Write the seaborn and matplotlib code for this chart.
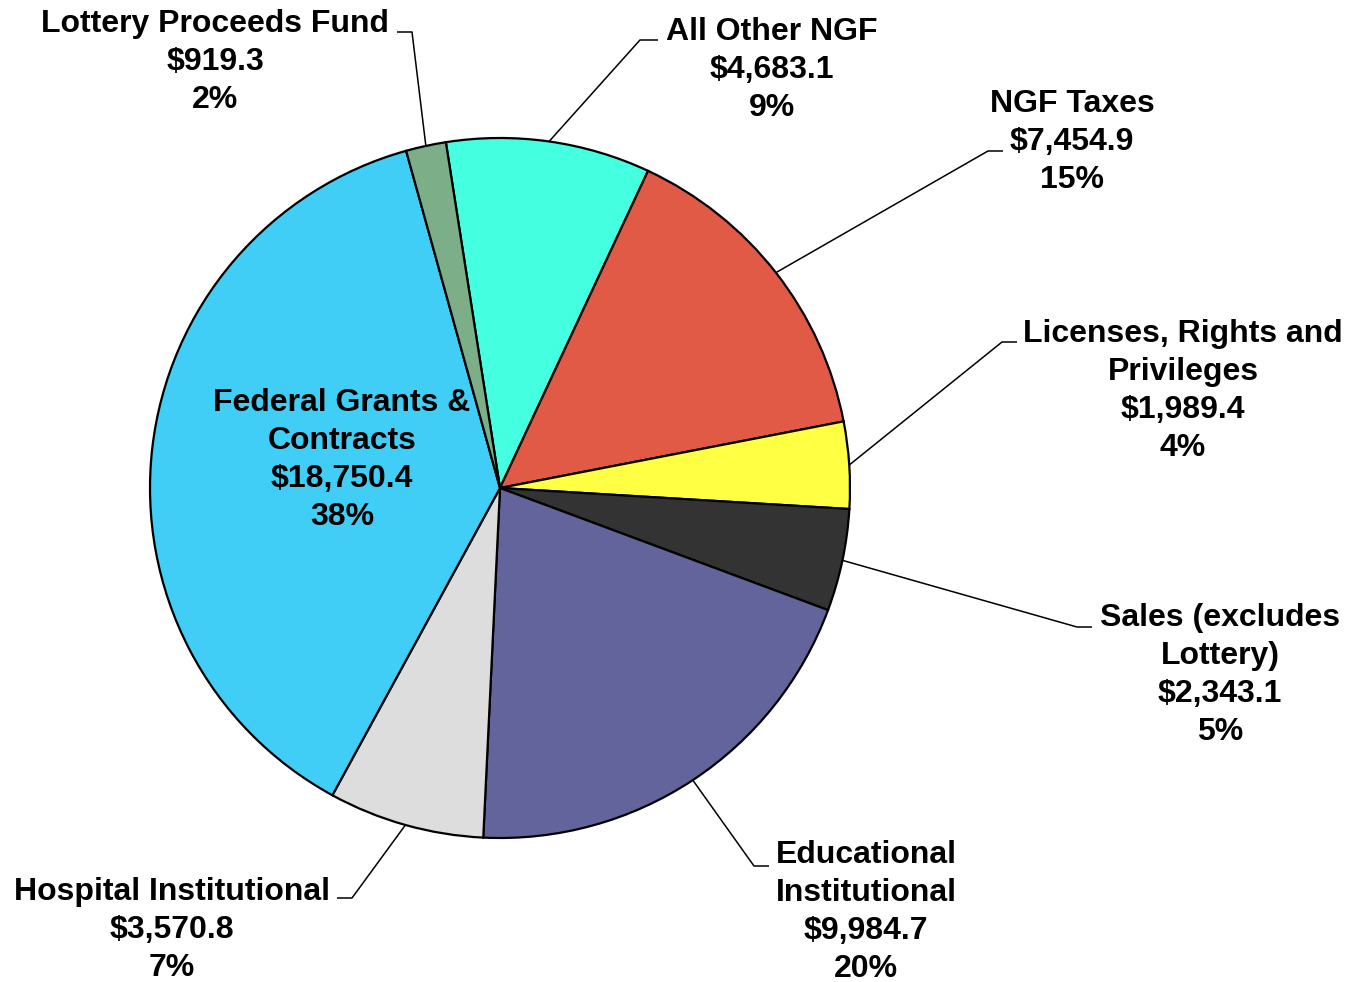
import numpy as np
import matplotlib
matplotlib.use("Agg")
import matplotlib.pyplot as plt
import seaborn as sns

# ---- data ----
categories = ["All Other NGF", "NGF Taxes", "Licenses, Rights and\nPrivileges",
              "Sales (excludes\nLottery)", "Educational\nInstitutional",
              "Hospital Institutional", "Federal Grants &\nContracts",
              "Lottery Proceeds Fund"]
values = [4683.1, 7454.9, 1989.4, 2343.1, 9984.7, 3570.8, 18750.4, 919.3]
colors = ["#44FFE0", "#E05A45", "#FFFF44", "#333333", "#63649C",
          "#DDDDDD", "#41CEF6", "#7CAE88"]

# ---- layout (pixel positions in the 1348x982 canvas) ----
W, H = 1348, 982
CX, CY, R = 500, 488, 350

def px(x, y):
    return (x - CX) / R, (CY - y) / R

# text block centre, elbow point, horizontal end point (pixels); None = inside
label_layout = [
    ((772, 70), (640, 40), (658, 40)),
    ((1072, 142), (988, 151), (1003, 151)),
    ((1183, 391), (1002, 342), (1017, 342)),
    ((1220, 675), (1077, 627), (1092, 627)),
    ((866, 912), (754, 866), (769, 866)),
    ((172, 930), (352, 898), (337, 898)),
    ((342, 460), None, None),
    ((215, 62), (412, 32), (397, 32)),
]

sns.set_theme(style="white")
plt.rcParams["font.family"] = ["Liberation Sans", "DejaVu Sans"]

fig = plt.figure(figsize=(W / 100, H / 100), dpi=100)
ax = fig.add_axes([0, 0, 1, 1])

start = 90 + 8.9
wedges, _ = ax.pie(values, colors=colors, startangle=start, counterclock=False,
                   radius=1.0, center=(0, 0),
                   wedgeprops=dict(edgecolor="black", linewidth=1.6))

total = sum(values)
for w, cat, val, (tpos, elbow, end) in zip(wedges, categories, values, label_layout):
    pct = val / total * 100
    txt = f"{cat}\n${val:,.1f}\n{pct:.0f}%"
    tx, ty = px(*tpos)
    ax.text(tx, ty, txt, ha="center", va="center", fontsize=23,
            fontweight="bold", linespacing=1.36, color="black", zorder=5)
    if elbow is not None:
        mid = np.deg2rad((w.theta1 + w.theta2) / 2)
        sx, sy = np.cos(mid), np.sin(mid)
        ex, ey = px(*elbow)
        hx, hy = px(*end)
        ax.plot([sx, ex, hx], [sy, ey, hy], color="black", lw=1.1,
                solid_capstyle="butt", zorder=4)

ax.set_aspect("auto")
ax.set_xlim((0 - CX) / R, (W - CX) / R)
ax.set_ylim((CY - H) / R, CY / R)
ax.axis("off")
fig.savefig("out.png", dpi=100, facecolor="white")
